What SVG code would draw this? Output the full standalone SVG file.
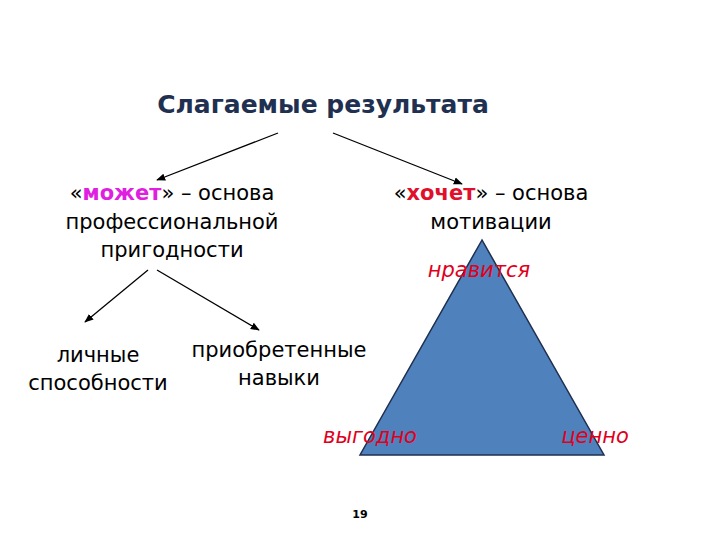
<svg xmlns="http://www.w3.org/2000/svg" width="720" height="540" viewBox="0 0 720 540">
<style>
text{font-family:"DejaVu Sans","Liberation Sans",sans-serif;fill:#000;text-anchor:middle}
.t{font-size:21px}
.h{font-size:25px;font-weight:bold;fill:#1f3050}
.r{font-size:21px;font-style:italic;fill:#e0001c}
.c{stroke:#000;stroke-width:1.3;fill:none;marker-end:url(#a)}
</style>
<defs>
<marker id="a" viewBox="0 0 10 10" refX="9" refY="5" markerWidth="7" markerHeight="7" orient="auto">
<path d="M0,1 L10,5 L0,9 z" fill="#000"/>
</marker>
</defs>
<rect width="720" height="540" fill="#fff"/>
<g id="triangle"><polygon points="482,240 360,455 604,455" fill="#4f81bd" stroke="#1f2f4f" stroke-width="1.5"/></g>
<g id="title"><text class="h" x="323" y="113">Слагаемые результата</text></g>
<g id="mozhet"><text class="t" x="172" y="200">«<tspan font-weight="bold" fill="#e020e0">может</tspan>» – основа</text>
<text class="t" x="172" y="229">профессиональной</text>
<text class="t" x="172" y="257">пригодности</text></g>
<g id="hochet"><text class="t" x="491" y="200">«<tspan font-weight="bold" fill="#e0102c">хочет</tspan>» – основа</text>
<text class="t" x="491" y="229">мотивации</text></g>
<g id="lichnye"><text class="t" x="98" y="362">личные</text><text class="t" x="98" y="390">способности</text></g>
<g id="navyki"><text class="t" x="279" y="357">приобретенные</text><text class="t" x="279" y="385">навыки</text></g>
<g id="nravitsya"><text class="r" x="479" y="277">нравится</text></g>
<g id="vygodno"><text class="r" x="370" y="443">выгодно</text></g>
<g id="cenno"><text class="r" x="595" y="443">ценно</text></g>
<g id="page"><text x="360" y="518" style="font-size:11px;font-weight:bold">19</text></g>
<g id="connectors">
<line class="c" x1="278" y1="133" x2="157" y2="180"/>
<line class="c" x1="333" y1="133" x2="462" y2="184"/>
<line class="c" x1="148" y1="270" x2="85" y2="322"/>
<line class="c" x1="157" y1="270" x2="259" y2="330"/>
</g>
</svg>
